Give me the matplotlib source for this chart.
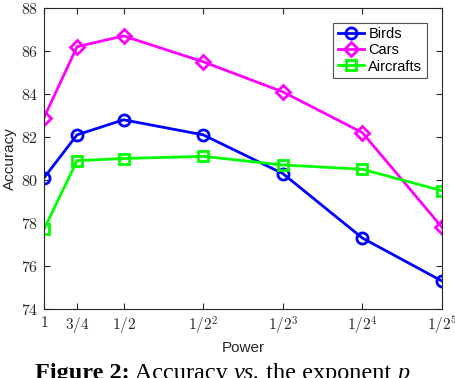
import numpy as np
import matplotlib
matplotlib.use("Agg")
import matplotlib.pyplot as plt

plt.rcParams["mathtext.fontset"] = "cm"

# exponent p: 1, 3/4, 1/2, 1/2^2 ... 1/2^5
powers = [1, 3 / 4, 1 / 2, 1 / 4, 1 / 8, 1 / 16, 1 / 32]
tick_labels = ["$1$", "$3/4$", "$1/2$", "$1/2^2$", "$1/2^3$", "$1/2^4$", "$1/2^5$"]

birds = [80.1, 82.1, 82.8, 82.1, 80.3, 77.3, 75.3]
cars = [82.9, 86.2, 86.7, 85.5, 84.1, 82.2, 77.8]
aircrafts = [77.7, 80.9, 81.0, 81.1, 80.7, 80.5, 79.5]

x = -np.log2(powers)

fig = plt.figure(figsize=(4.56, 3.78), dpi=100)
ax = fig.add_axes([44 / 456, 1 - 309 / 378, (442 - 44) / 456, (309 - 8) / 378])

kw = dict(lw=2, mfc="none", mew=2, ms=8)
ax.plot(x, birds, "-o", color=(0, 0, 1), label="Birds", **kw)
ax.plot(x, cars, "-D", color=(1, 0, 1), label="Cars", **dict(kw, ms=7))
ax.plot(x, aircrafts, "-s", color=(0, 1, 0), label="Aircrafts", **dict(kw, ms=7))

ax.set_xlim(x[0], x[-1])
ax.set_ylim(74, 88)
ax.set_xticks(x)
ax.set_xticklabels(tick_labels, fontsize=11)
ax.set_yticks(np.arange(74, 89, 2))
ax.set_yticklabels(["$%d$" % v for v in range(74, 89, 2)], fontsize=11.5)
ax.tick_params(direction="in", top=True, right=True, length=4, color="#262626",
               labelcolor="#262626", pad=4)
for s in ax.spines.values():
    s.set_color("#262626")
    s.set_linewidth(0.8)

ax.set_xlabel("Power", fontsize=11, family="Liberation Sans", color="#262626", labelpad=3)
ax.set_ylabel("Accuracy", fontsize=11, family="Liberation Sans", color="#262626", labelpad=3)

leg = ax.legend(loc="upper right", bbox_to_anchor=(0.98, 0.975), fancybox=False,
                edgecolor="#262626", prop={"family": "Liberation Sans", "size": 10.5},
                handlelength=1.8, borderpad=0.3, labelspacing=0.15, handletextpad=0.3)
leg.get_frame().set_linewidth(0.8)

# caption, cut at the bottom edge like the original page crop
pieces = [("Figure 2:", "bold", "normal"), (" Accuracy ", "normal", "normal"),
          ("vs.", "normal", "italic"), (" the exponent ", "normal", "normal"),
          ("p", "normal", "italic")]
renderer = fig.canvas.get_renderer()
xpos = 35
for s, weight, style in pieces:
    t = fig.text(xpos / 456, 1 - 379 / 378, s, fontsize=17.5, family="Liberation Serif",
                 weight=weight, style=style, va="baseline", ha="left")
    bb = t.get_window_extent(renderer)
    xpos += bb.width

fig.savefig("out.png", dpi=100)
